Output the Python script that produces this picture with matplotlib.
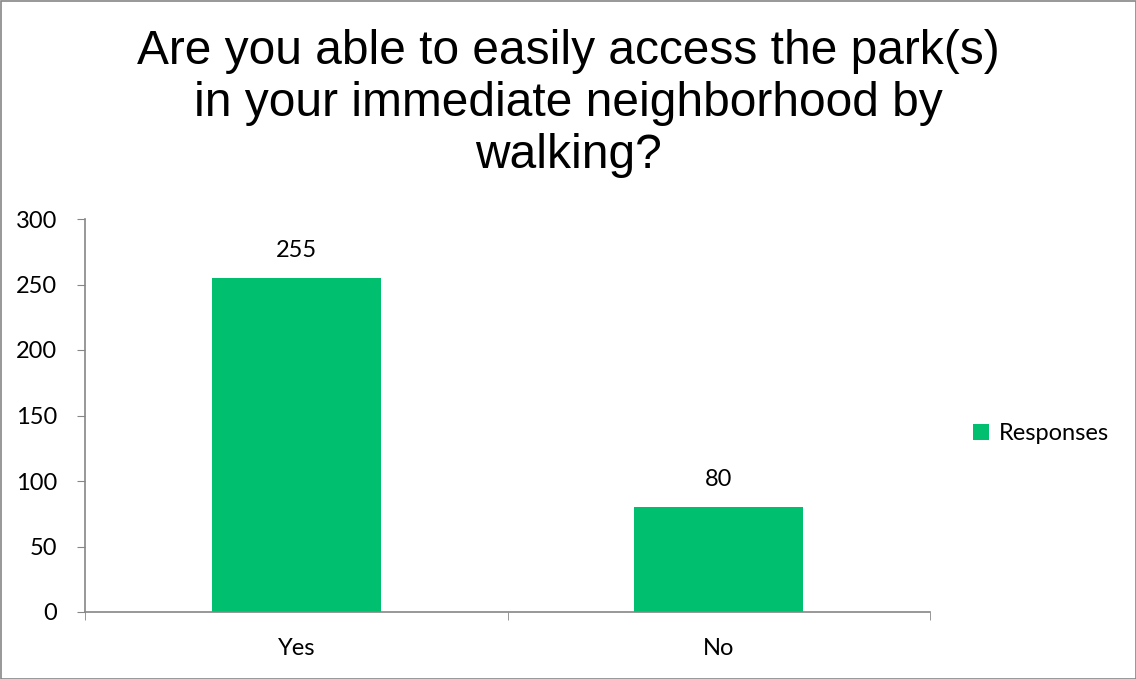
import matplotlib
matplotlib.use("Agg")
import matplotlib.pyplot as plt
from matplotlib.patches import Rectangle

categories = ["Yes", "No"]
values = [255, 80]
series_name = "Responses"
title = "Are you able to easily access the park(s)\nin your immediate neighborhood by\nwalking?"

color = "#00BF6F"
FS = 17
fig = plt.figure(figsize=(11.36, 6.79), dpi=100)
ax = fig.add_axes([85/1136, 1-612/679, (930-85)/1136, (612-219)/679])

x = list(range(len(categories)))
bars = ax.bar(x, values, width=0.4, color=color, label=series_name, zorder=2)
for xi, v in zip(x, values):
    ax.annotate(str(v), (xi, v), xytext=(0, 20), textcoords="offset points",
                ha="center", va="center", fontsize=FS, family="Lato", color="#000000")

ax.set_xlim(-0.5, len(categories) - 0.5)
ax.set_ylim(0, 300)
ax.set_yticks(range(0, 301, 50))
ax.set_xticks(x)
ax.set_xticklabels(categories)
ax.set_xticks([i - 0.5 for i in range(len(categories) + 1)], minor=True)
ax.tick_params(axis="x", which="major", length=0, pad=19)
ax.tick_params(axis="x", which="minor", length=6, color="#868686", direction="out")
ax.tick_params(axis="y", length=6, color="#868686", pad=14)
for lab in ax.get_xticklabels() + ax.get_yticklabels():
    lab.set_fontfamily("Lato")
    lab.set_fontsize(FS)
for s in ["top", "right"]:
    ax.spines[s].set_visible(False)
for s in ["left", "bottom"]:
    ax.spines[s].set_color("#868686")
    ax.spines[s].set_linewidth(1.2)

fig.text(0.5, 1-104/679, title, ha="center", va="center", fontsize=34.5,
         family="Liberation Sans", linespacing=1.2)

leg = fig.legend(handles=[bars], labels=[series_name], loc="center left",
                 bbox_to_anchor=(952/1136, 1-434/679), frameon=False,
                 prop={"family": "Lato", "size": FS}, handlelength=0.65,
                 handleheight=0.65, handletextpad=0.45)

fig.patches.append(Rectangle((0.5/1136, 0.5/679), 1-1/1136, 1-1/679, transform=fig.transFigure,
                             fill=False, edgecolor="#868686", linewidth=1.2))

fig.savefig("out.png", dpi=100)
